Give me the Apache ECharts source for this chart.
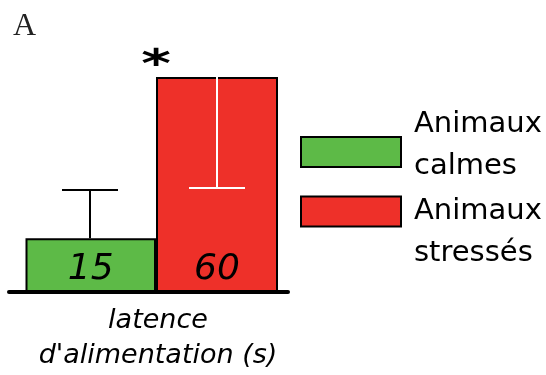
<!DOCTYPE html>
<html>
<head>
<meta charset="utf-8">
<script src="https://cdn.jsdelivr.net/npm/echarts@6/dist/echarts.min.js"></script>
<style>
html,body{margin:0;padding:0;background:#fff;}
#c{width:546px;height:375px;}
</style>
</head>
<body>
<div id="c"></div>
<script>
// ---- data ----
var categories = ['Animaux calmes', 'Animaux stressés'];
var values = [15, 60];
var errors = [13.5, 31];
var errorDirection = [1, -1]; // green bar: upward whisker, red bar: downward whisker
var significance = ['', '*'];
var axisTitle = "latence\nd'alimentation (s)";
var panelLabel = 'A';
var yMax = 60;

// ---- styles ----
var colors = ['#5dba47', '#ee3029'];
var errorColors = ['#000000', '#ffffff'];
var barWidths = [132, 122];
var FONT = "'DejaVu Sans',sans-serif";

var chart = echarts.init(document.getElementById('c'), null, {renderer: 'canvas'});

function seriesData(i) {
  return categories.map(function (c, j) { return j === i ? values[j] : '-'; });
}

var errData = categories.map(function (c, i) {
  return [i, values[i], errors[i], errorDirection[i]];
});

var legendRich = {
  a: {fontFamily: FONT, fontSize: 29, lineHeight: 42, color: '#000', padding: [0, 0, 0, 8]},
  s: {fontFamily: FONT, fontSize: 10, lineHeight: 13}
};
var legendRichRed = {
  a: {fontFamily: FONT, fontSize: 29, lineHeight: 42, color: '#000', padding: [0, 0, 0, 8]},
  s: {fontFamily: FONT, fontSize: 10, lineHeight: 42}
};

var option = {
  animation: false,
  title: {
    text: panelLabel, left: 8, top: 6,
    textStyle: {fontFamily: "'Liberation Serif', serif", fontSize: 32, fontWeight: 'normal', color: '#222'}
  },
  legend: [
    {
      data: [categories[0]], orient: 'vertical', left: 300, top: 110, padding: 0,
      itemWidth: 100, itemHeight: 30, icon: 'rect',
      itemStyle: {borderColor: '#000', borderWidth: 2},
      formatter: function (n) { var p = n.split(' '); return '{a|' + p[0] + '}\n{a|' + p[1] + '}\n{s| }'; },
      textStyle: {rich: legendRich}
    },
    {
      data: [categories[1]], orient: 'vertical', left: 300, top: 164.5, padding: 0,
      itemWidth: 100, itemHeight: 30, icon: 'rect',
      itemStyle: {borderColor: '#000', borderWidth: 2},
      formatter: function (n) { var p = n.split(' '); return '{s| }\n{a|' + p[0] + '}\n{a|' + p[1] + '}'; },
      textStyle: {rich: legendRichRed}
    }
  ],
  grid: [
    {left: 26.5, width: 254, top: 77, height: 215, outerBoundsMode: 'none'},
    {left: 9, width: 279, top: 77, height: 215, outerBoundsMode: 'none'}
  ],
  xAxis: [
    {type: 'category', gridIndex: 0, data: categories, show: false},
    {type: 'category', gridIndex: 0, data: categories, show: false},
    {
      type: 'category', gridIndex: 1, data: [''],
      axisLine: {show: true, lineStyle: {color: '#000', width: 4}},
      axisTick: {show: false}, axisLabel: {show: false},
      name: axisTitle, nameLocation: 'middle', nameGap: 11,
      nameTextStyle: {fontFamily: FONT, fontStyle: 'italic', fontSize: 27, lineHeight: 35, color: '#000',
        verticalAlign: 'top', padding: [0, 0, 0, 19]}
    }
  ],
  yAxis: [
    {type: 'value', gridIndex: 0, min: 0, max: yMax, show: false},
    {type: 'value', gridIndex: 1, min: 0, max: yMax, show: false}
  ],
  series: [
    {
      name: categories[0], type: 'bar', xAxisIndex: 0, yAxisIndex: 0,
      data: seriesData(0), barWidth: barWidths[0],
      itemStyle: {color: colors[0], borderColor: '#000', borderWidth: 2},
      label: {show: true, position: 'insideBottom', distance: 4, fontFamily: FONT, fontStyle: 'italic',
        fontSize: 36, color: '#000'}
    },
    {
      name: categories[1], type: 'bar', xAxisIndex: 1, yAxisIndex: 0,
      data: seriesData(1), barWidth: barWidths[1],
      itemStyle: {color: colors[1], borderColor: '#000', borderWidth: 2},
      label: {show: true, position: 'insideBottom', distance: 4, fontFamily: FONT, fontStyle: 'italic',
        fontSize: 36, color: '#000'}
    },
    {
      type: 'custom', xAxisIndex: 0, yAxisIndex: 0, z: 10,
      data: errData,
      renderItem: function (params, api) {
        var i = api.value(0);
        var v = api.value(1);
        var e = api.value(2);
        var d = api.value(3);
        var p0 = api.coord([i, v]);
        var p1 = api.coord([i, v + d * e]);
        var cap = 28;
        var col = errorColors[i];
        var children = [
          {type: 'line', shape: {x1: p0[0], y1: p0[1], x2: p1[0], y2: p1[1]},
            style: {stroke: col, lineWidth: 2}},
          {type: 'line', shape: {x1: p1[0] - cap, y1: p1[1], x2: p1[0] + cap, y2: p1[1]},
            style: {stroke: col, lineWidth: 2}}
        ];
        if (significance[i]) {
          children.push({
            type: 'text',
            x: p0[0] - barWidths[i] / 2, y: p0[1] + 9,
            scaleX: 1.05, scaleY: 0.72,
            style: {text: significance[i], x: 0, y: 0,
              align: 'center', verticalAlign: 'bottom',
              font: 'bold 54px ' + FONT, fill: '#000'}
          });
        }
        return {type: 'group', children: children};
      }
    }
  ]
};
chart.setOption(option);
</script>
</body>
</html>
